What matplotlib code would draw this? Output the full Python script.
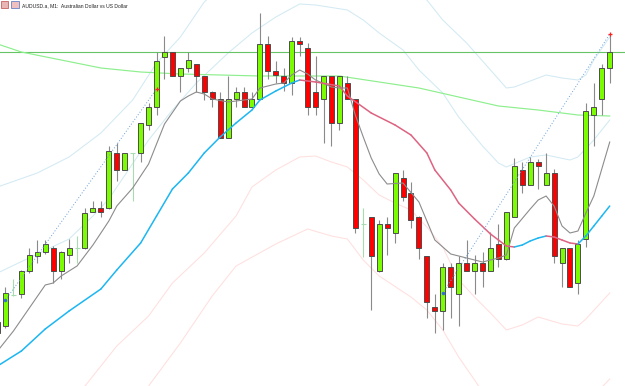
import numpy as np
import matplotlib
matplotlib.use("Agg")
from matplotlib import pyplot as plt
from matplotlib.patches import Rectangle

# price in points above the bottom of the window, bar -1 is cut by the left edge
bars = list(range(-1, 77))
opens = [53, 60, 91, 92, 115, 130, 134, 138, 115, 131, 138, 138, 174, 178, 178, 233, 216, 233, 233, 261,
         279, 329, 334, 310, 318, 322, 310, 294, 287, 248, 287, 294, 279, 287, 342, 315, 310, 303, 345, 338,
         294, 287, 310, 263, 303, 287, 162, 169, 115, 162, 153, 208, 193, 169, 130, 79, 75, 119, 92, 123,
         115, 123, 115, 142, 127, 169, 216, 201, 224, 201, 213, 123, 138, 103, 147, 271, 287, 318]
highs = [66, 99, 107, 116, 138, 146, 146, 140, 135, 147, 150, 178, 185, 185, 240, 243, 233, 233, 263, 283,
         334, 350, 334, 318, 334, 322, 310, 295, 294, 310, 299, 299, 294, 373, 350, 325, 318, 349, 349, 343,
         330, 310, 310, 310, 310, 287, 178, 169, 166, 169, 213, 216, 204, 170, 130, 92, 123, 123, 130, 146,
         131, 134, 154, 162, 174, 228, 224, 229, 227, 233, 217, 138, 138, 146, 283, 303, 322, 351]
lows = [50, 58, 90, 88, 113, 123, 132, 103, 107, 123, 123, 137, 174, 169, 177, 205, 216, 185, 224, 256,
        271, 307, 310, 294, 314, 294, 286, 279, 248, 248, 279, 279, 279, 287, 307, 303, 295, 291, 330, 271,
        271, 243, 240, 256, 287, 153, 129, 76, 114, 131, 143, 185, 158, 127, 68, 53, 56, 68, 60, 115,
        92, 99, 115, 119, 126, 169, 193, 201, 197, 201, 123, 99, 99, 92, 139, 240, 271, 303]
closes = [64, 93, 91, 115, 131, 134, 142, 115, 134, 138, 138, 173, 178, 174, 235, 216, 233, 233, 263, 279,
          325, 334, 310, 318, 326, 310, 294, 287, 248, 287, 294, 279, 287, 342, 315, 311, 303, 345, 342, 279,
          279, 310, 263, 310, 287, 158, 162, 130, 162, 158, 213, 189, 166, 138, 84, 75, 119, 99, 123, 115,
          123, 115, 138, 127, 174, 220, 201, 224, 220, 213, 130, 138, 99, 142, 275, 279, 318, 334]

# fast MA (gray)
fast_k = [-1, 1, 3, 5, 6, 7, 9, 11, 13, 14, 16, 18, 20, 22, 23, 24, 25, 26, 28, 29, 31, 32, 34, 35, 36, 37,
          38, 39, 41, 42, 43, 44, 45, 46, 47, 48, 50, 52, 54, 56, 58, 60, 62, 63, 64, 66, 67, 68, 69, 70,
          71, 72, 73, 74, 75, 76]
fast_v = [35, 55, 78, 101, 103, 110, 120, 141, 165, 180, 198, 222, 262, 285, 290, 294, 292, 287, 284, 285,
          287, 298, 302, 303, 311, 316, 312, 306, 299, 298, 298, 271, 249, 228, 212, 202, 203, 184, 146, 132,
          128, 124, 128, 131, 158, 177, 186, 190, 180, 160, 153, 155, 173, 190, 217, 244]

# slow MA, blue while rising, crimson while falling
slow_k = [-1, 2, 5, 8, 12, 14, 17, 19, 21, 23, 25, 27, 29, 31, 32, 34, 36, 37, 39, 42, 43, 46, 49, 51, 53,
          54, 56, 57, 59, 61, 62, 63, 64, 65, 66, 67, 68, 69, 70, 71, 72, 73, 74, 75, 76]
slow_v = [20, 35, 57, 75, 97, 116, 143, 170, 197, 213, 233, 249, 263, 276, 286, 295, 303, 306, 304, 300,
          290, 273, 261, 251, 233, 216, 196, 183, 167, 152, 146, 140, 139, 141, 145, 148, 150, 149, 146, 143,
          142, 150, 160, 170, 180]

# long MA (light green)
long_k = [-1, 2, 7, 12, 17, 22, 27, 32, 37, 42, 47, 52, 57, 62, 67, 72, 76]
long_v = [342, 334, 326, 318, 314, 312, 311, 310, 310, 310, 304, 298, 289, 280, 276, 271, 270]

level_v = 334

# channel lines
upper_outer_k = [-1, 4, 8, 12, 16, 19, 22, 25, 30, 37, 45, 53, 55, 58, 61, 63, 64, 68, 70, 72, 73, 74, 76]
upper_outer_v = [199, 213, 229, 253, 286, 323, 349, 384, 420, 450, 430, 386, 366, 343, 316, 298, 299, 311,
                 308, 306, 311, 326, 349]
upper_inner_k = [-1, 4, 8, 11, 13, 18, 21, 24, 28, 31, 34, 37, 39, 43, 45, 47, 50, 52, 55, 57, 60, 62, 63,
                 66, 68, 71, 72, 74, 76]
upper_inner_v = [113, 132, 147, 170, 187, 246, 276, 303, 333, 353, 369, 382, 381, 376, 366, 353, 336, 316,
                 293, 269, 240, 223, 219, 229, 231, 226, 229, 246, 266]
lower_inner_k = [8, 14, 18, 21, 25, 29, 31, 34, 37, 39, 41, 43, 45, 47, 49, 51, 53, 55, 57, 59, 61, 63, 65,
                 67, 70, 72, 73, 76]
lower_inner_v = [-20, 40, 70, 103, 133, 170, 199, 216, 229, 230, 224, 219, 206, 191, 183, 176, 159, 139, 106,
                 89, 73, 56, 61, 69, 62, 60, 67, 93]
lower_outer_k = [16, 18, 22, 26, 29, 34, 38, 41, 43, 45, 47, 51, 53, 55, 57, 59, 62, 70, 74, 76]
lower_outer_v = [-25, 0, 43, 90, 120, 142, 157, 150, 147, 126, 110, 89, 76, 56, 29, 6, -30, -45, -10, 7]

# trades: open bar/price -> close bar/price
trade_open_k = [0, 55]
trade_open_v = [86, 93]
trade_close_k = [19, 76]
trade_close_v = [297, 352]

fig = plt.figure(figsize=(6.25, 3.86), dpi=100)
ax = fig.add_axes([0, 0, 1, 1])
ax.set_xlim(-0.69, 77.92)
ax.set_ylim(0, 386)
ax.axis("off")

band_col = "#d2eaf3"
pink_col = "#ffdfdf"
ax.plot(upper_outer_k, upper_outer_v, color=band_col, lw=0.75, zorder=1)
ax.plot(upper_inner_k, upper_inner_v, color=band_col, lw=0.75, zorder=1)
ax.plot(lower_inner_k, lower_inner_v, color=pink_col, lw=0.75, zorder=1)
ax.plot(lower_outer_k, lower_outer_v, color=pink_col, lw=0.75, zorder=1)
ax.axhline(level_v, color="#66c466", lw=0.8, zorder=1)
ax.plot(long_k, long_v, color="#8def8d", lw=0.85, zorder=1)

# candles
w = 0.63
for k, o, h, l, c in zip(bars, opens, highs, lows, closes):
    if o == c:
        ax.vlines(k, l, h, color="#a6dcb0", lw=0.8, zorder=2)
        ax.hlines(o, k - w / 2, k + w / 2, color="#a6dcb0", lw=0.8, zorder=2)
        continue
    ax.vlines(k, l, h, color="#8a8a8a", lw=0.8, zorder=2)
    col = "#7cfc00" if c > o else "#ff0000"
    ax.add_patch(Rectangle((k - w / 2, min(o, c)), w, abs(c - o), facecolor=col,
                           edgecolor="#4d4d4d", lw=0.7, zorder=3))

ax.plot(fast_k, fast_v, color="#8c8c8c", lw=0.8, zorder=4)
for i in range(len(slow_k) - 1):
    col = "#1cb6f2" if slow_v[i + 1] >= slow_v[i] else "#de6381"
    ax.plot(slow_k[i:i + 2], slow_v[i:i + 2], color=col, lw=1.1, zorder=4,
            solid_capstyle="round")

for ok, ov, ck, cv in zip(trade_open_k, trade_open_v, trade_close_k, trade_close_v):
    ax.plot([ok, ck], [ov, cv], color="#6a9fd8", lw=0.7, ls=(0, (1, 2)), zorder=5)
    ax.plot(ok, ov, marker="o", ms=1.5, color="#3070d0", zorder=6)
    ax.plot(ck, cv, marker="+", ms=3, mew=0.9, color="#ff2020", zorder=6)

# window caption
fig.patches.append(Rectangle((0.001, 0.978), 0.012, 0.019, transform=fig.transFigure,
                             facecolor="#e8b4b4", edgecolor="#c04848", lw=0.5))
fig.patches.append(Rectangle((0.018, 0.978), 0.012, 0.019, transform=fig.transFigure,
                             facecolor="#f0c0c0", edgecolor="#4a70c0", lw=0.5))
fig.text(0.035, 0.986, "AUDUSD.a, M1:  Australian Dollar vs US Dollar", fontsize=3.6,
         family="Liberation Sans", color="#202020", va="center", ha="left")

fig.savefig("out.png", dpi=100, facecolor="white")
